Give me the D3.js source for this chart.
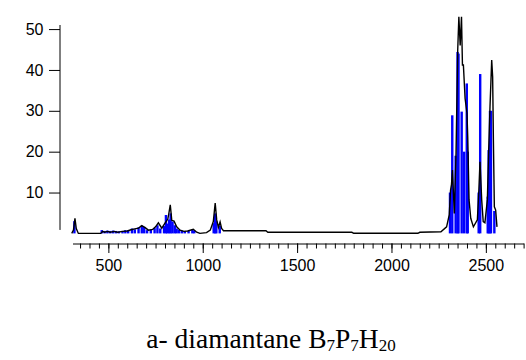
<!DOCTYPE html>
<html>
<head>
<meta charset="utf-8">
<script src="https://cdn.jsdelivr.net/npm/d3@7"></script>
<style>
  html, body { margin: 0; padding: 0; background: #fff; }
  #chart { width: 526px; height: 360px; }
</style>
</head>
<body>
<div id="chart"></div>
<script>
// black envelope: [wavenumber, intensity]
const envelope = [
  [306, 0], [315, 0.8], [323, 3.7], [330, 1.2], [341, 0], [460, 0],
  [470, 0.5], [480, 0.3], [495, 0.5], [510, 0.3], [530, 0.5], [550, 0.3],
  [575, 0.5], [600, 0.6], [620, 0.9], [640, 1.1], [660, 1.3], [677, 1.9],
  [695, 1.4], [712, 0.8], [735, 1.0], [750, 1.6], [765, 2.6], [783, 1.3],
  [800, 2.5], [815, 3.5], [821, 5.0], [828, 7.0], [836, 3.2], [848, 3.0],
  [862, 1.6], [880, 0.8], [900, 0.5], [920, 0.6], [950, 1.0], [968, 0.3],
  [985, 0], [1020, 0.2], [1040, 0.8], [1056, 2.9], [1066, 7.4], [1074, 3.3],
  [1083, 1.5], [1092, 2.8], [1100, 1.2], [1110, 0.65], [1335, 0.65],
  [1345, 0.27], [1790, 0.27], [1800, 0.03], [2140, 0.03], [2150, 0.27],
  [2262, 0.4], [2292, 1.6], [2306, 4.5], [2313, 10.6], [2318, 12],
  [2323, 15.5], [2333, 4.9], [2342, 19.6], [2351, 44.9], [2357, 53],
  [2364, 46], [2371, 53], [2376, 41.2], [2381, 41.2], [2390, 33],
  [2400, 29.4], [2404, 23.7], [2411, 8.2], [2420, 3.7], [2434, 1.6],
  [2455, 3.3], [2463, 10.6], [2469, 17.5], [2478, 8.2], [2486, 2.9],
  [2495, 2.6], [2508, 8.2], [2515, 20.4], [2522, 31], [2531, 42.4],
  [2536, 38.3], [2540, 22.8], [2545, 6.5], [2552, 5.7], [2559, 1.6]
];

// blue sticks: [wavenumber, intensity]
const sticks = [
  [320, 3.0], [465, 0.8], [480, 0.6], [495, 0.7], [510, 0.6], [525, 0.7],
  [540, 0.6], [555, 0.5], [575, 0.6], [590, 0.8], [605, 0.7], [625, 1.2],
  [640, 1.0], [660, 1.5], [677, 1.9], [690, 1.6], [705, 0.8], [725, 0.9],
  [745, 1.3], [760, 2.0], [775, 1.2], [795, 1.8], [805, 4.5], [812, 2.4],
  [822, 3.4], [830, 4.9], [840, 2.9], [852, 2.0], [862, 1.2], [875, 0.9],
  [890, 0.7], [905, 0.5], [925, 0.6], [945, 0.9], [955, 0.7],
  [1058, 2.5], [1066, 4.9], [1072, 3.0], [1090, 1.9],
  [2310, 10], [2322, 28.9], [2340, 19], [2350, 44.4], [2355, 44],
  [2372, 29.8], [2385, 20], [2399, 36.7], [2404, 20], [2462, 10],
  [2470, 39], [2510, 9], [2515, 20.4], [2522, 30], [2527, 30], [2545, 5.5]
];

const majorTicks = [500, 1000, 1500, 2000, 2500];
const minorTicks = d3.range(350, 2701, 50);
const yTicks = [10, 20, 30, 40, 50];
const caption = { lead: 'a- diamantane ', parts: [['B', '7'], ['P', '7'], ['H', '20']] };

const xDomain = [310, 2700];
const yDomain = [0, 51];
const yLineMin = 0.85;
const stickWidth = 2.4;

const svg = d3.select('#chart').append('svg')
  .attr('width', 526)
  .attr('height', 360);

const x = d3.scaleLinear().domain(xDomain).range([72.5, 523.6]);
const y = d3.scaleLinear().domain(yDomain).range([233.4, 25]);

const font = '"Liberation Sans", Arial, sans-serif';

// y axis
const yAxis = svg.append('g')
  .attr('transform', 'translate(60,0)')
  .call(d3.axisLeft(y).tickValues(yTicks).tickSize(11).tickSizeOuter(0).tickPadding(5.5));
yAxis.select('.domain').remove();
yAxis.append('line')
  .attr('x1', 0).attr('x2', 0)
  .attr('y1', y(yLineMin)).attr('y2', y(yDomain[1]))
  .attr('stroke', '#000');
yAxis.selectAll('.tick line').attr('stroke', '#000');
yAxis.selectAll('text')
  .attr('font-family', font)
  .attr('font-size', 16)
  .attr('fill', '#000');

// x axis
const xAxisY = 243.5;
const xMinor = svg.append('g')
  .attr('transform', `translate(0,${xAxisY})`)
  .call(d3.axisBottom(x).tickValues(minorTicks).tickSize(5).tickSizeOuter(0).tickFormat(''));
xMinor.selectAll('line, path').attr('stroke', '#000');

const xMajor = svg.append('g')
  .attr('transform', `translate(0,${xAxisY})`)
  .call(d3.axisBottom(x).tickValues(majorTicks).tickSize(9.5).tickSizeOuter(0).tickPadding(6.5).tickFormat(d3.format('d')));
xMajor.select('.domain').remove();
xMajor.selectAll('.tick line').attr('stroke', '#000');
xMajor.selectAll('text')
  .attr('font-family', font)
  .attr('font-size', 16)
  .attr('fill', '#000');

// blue sticks
svg.append('g')
  .selectAll('rect')
  .data(sticks)
  .join('rect')
  .attr('x', d => x(d[0]) - stickWidth / 2)
  .attr('width', stickWidth)
  .attr('y', d => y(d[1]))
  .attr('height', d => y(0) - y(d[1]))
  .attr('fill', '#0000ff');

// black envelope on top
const line = d3.line()
  .x(d => x(d[0]))
  .y(d => y(d[1]));

svg.append('path')
  .datum(envelope)
  .attr('d', line)
  .attr('fill', 'none')
  .attr('stroke', '#000')
  .attr('stroke-width', 1.4)
  .attr('stroke-linejoin', 'miter');

// caption
const cap = svg.append('text')
  .attr('x', 271)
  .attr('y', 348)
  .attr('text-anchor', 'middle')
  .attr('font-family', '"Liberation Serif", "Times New Roman", serif')
  .attr('font-size', 27.5)
  .attr('fill', '#000');
cap.append('tspan').text(caption.lead);
caption.parts.forEach(([el, n], i) => {
  cap.append('tspan').attr('dy', i === 0 ? 0 : -3).text(el);
  cap.append('tspan').attr('font-size', 17).attr('dy', 3).text(n);
});
</script>
</body>
</html>
